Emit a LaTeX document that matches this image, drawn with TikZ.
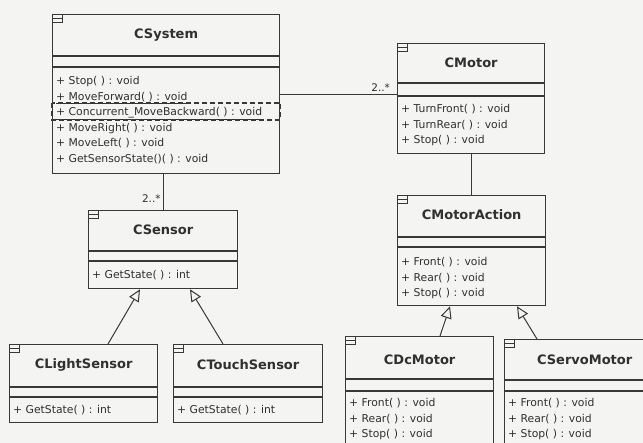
\documentclass[tikz,border=0pt]{standalone}
\usepackage{fontspec}
\setmainfont{DejaVu Sans}
\usepackage{xcolor}
\usepackage{tikz}
\usetikzlibrary{arrows.meta,calc}
\definecolor{umlline}{HTML}{383838}
\definecolor{umltext}{HTML}{303030}
\definecolor{paper}{HTML}{F4F4F2}
\tikzset{
  classbox/.style={draw=umlline, line width=1.3pt, rectangle, anchor=north west, inner sep=0pt},
  classtitle/.style={font=\fontsize{13}{15}\selectfont\bfseries, text=umltext, inner sep=0pt},
  opslist/.style={font=\fontsize{10.8}{15.6}\selectfont, text=umltext, align=left, anchor=north west, inner sep=0pt},
  sepline/.style={draw=umlline, line width=1.2pt},
  iconline/.style={draw=umlline, line width=0.8pt},
  assoc/.style={draw=umlline, line width=1pt},
  inherit/.style={-{Triangle[open,length=12pt,width=11pt]}, draw=umlline, line width=1pt},
  mult/.style={font=\fontsize{10.5}{12}\selectfont, text=umltext, inner sep=2pt},
  selbox/.style={draw=umlline, dash pattern=on 5pt off 3pt, line width=1.5pt}
}
\begin{document}
\begin{tikzpicture}[x=1pt,y=-1pt]
  \clip (0,0) rectangle (643,443);
  \fill[paper] (0,0) rectangle (643,443);
  \node[classbox, minimum width=227pt, minimum height=159pt] (csystem) at (52,14) {};
  \node[classbox, minimum width=147pt, minimum height=110pt] (cmotor) at (397,43) {};
  \node[classbox, minimum width=148pt, minimum height=110pt] (cmotoraction) at (397,195) {};
  \node[classbox, minimum width=149pt, minimum height=78pt] (csensor) at (88,210) {};
  \node[classbox, minimum width=148pt, minimum height=78pt] (clight) at (9,344) {};
  \node[classbox, minimum width=149pt, minimum height=78pt] (ctouch) at (173,344) {};
  \node[classbox, minimum width=148pt, minimum height=130pt] (cdc) at (345,336) {};
  \node[classbox, minimum width=160pt, minimum height=130pt] (cservo) at (504,339) {};
  \foreach \c/\ya/\yb in {csystem/56/67, cmotor/83/96, cmotoraction/237/247, csensor/251/261,
      clight/387/397, ctouch/387/397, cdc/379/391, cservo/380/391}
    \draw[sepline] (\c.west |- 0,\ya) -- (\c.east |- 0,\ya) (\c.west |- 0,\yb) -- (\c.east |- 0,\yb);
  \foreach \c in {csystem,cmotor,cmotoraction,csensor,clight,ctouch,cdc,cservo}
    \draw[iconline] (\c.north west) rectangle ++(10,8) ($(\c.north west)+(0,4)$) -- ++(10,0);
  \node[classtitle] (csystemname) at (csystem.north |- 0,35) {CSystem};
  \node[classtitle] (cmotorname) at (cmotor.north |- 0,63) {CMotor};
  \node[classtitle] (cmotoractionname) at (cmotoraction.north |- 0,215) {CMotorAction};
  \node[classtitle] (csensorname) at (csensor.north |- 0,230) {CSensor};
  \node[classtitle] (clightname) at (clight.north |- 0,365) {CLightSensor};
  \node[classtitle] (ctouchname) at (ctouch.north |- 0,365) {CTouchSensor};
  \node[classtitle] (cdcname) at (cdc.north |- 0,360) {CDcMotor};
  \node[classtitle] (cservoname) at (cservo.north |- 0,360) {CServoMotor};
  \node[opslist] (csystemops) at (56,76) {+ Stop( ) : void\\\underline{+ MoveForward( ) : void}\\\underline{+ Concurrent\_MoveBackward( ) : void}\\+ MoveRight( ) : void\\+ MoveLeft( ) : void\\+ GetSensorState()( ) : void};
  \draw[selbox] (csystem.west |- 0,103) rectangle (csystem.east |- 0,120);
  \node[opslist] (cmotorops) at (401,104) {+ TurnFront( ) : void\\+ TurnRear( ) : void\\+ Stop( ) : void};
  \node[opslist] (cmotoractionops) at (401,257) {+ Front( ) : void\\+ Rear( ) : void\\+ Stop( ) : void};
  \node[opslist] (csensorops) at (92,270) {+ GetState( ) : int};
  \node[opslist] (clightops) at (13,405) {+ GetState( ) : int};
  \node[opslist] (ctouchops) at (177,405) {+ GetState( ) : int};
  \node[opslist] (cdcops) at (349,398) {+ Front( ) : void\\+ Rear( ) : void\\+ Stop( ) : void};
  \node[opslist] (cservoops) at (508,398) {+ Front( ) : void\\+ Rear( ) : void\\+ Stop( ) : void};
  \draw[assoc] (csystem.east) -- node[mult, pos=0.86, above] {2..*} (csystem.east -| cmotor.west);
  \draw[assoc] (csystem.south -| csensor.north) -- node[mult, pos=0.68, left] {2..*} (csensor.north);
  \draw[assoc] (cmotor.south) -- (cmotor.south |- cmotoraction.north);
  \draw[inherit] ($(clight.north west)+(99,0)$) -- ($(csensor.south west)+(52,0)$);
  \draw[inherit] ($(ctouch.north west)+(50,0)$) -- ($(csensor.south west)+(102,0)$);
  \draw[inherit] ($(cdc.north west)+(95,0)$) -- ($(cmotoraction.south west)+(53,0)$);
  \draw[inherit] ($(cservo.north west)+(33,0)$) -- ($(cmotoraction.south west)+(120,0)$);
\end{tikzpicture}
\end{document}
